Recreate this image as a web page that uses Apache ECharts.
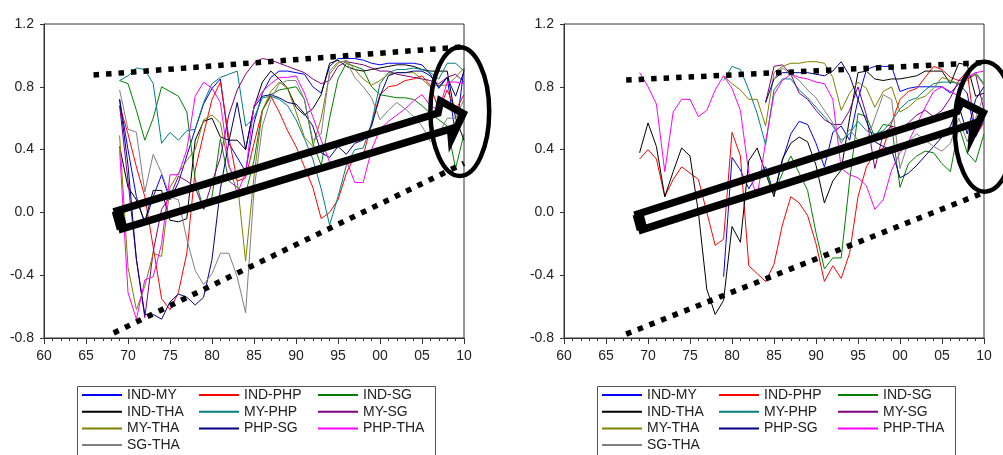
<!DOCTYPE html>
<html>
<head>
<meta charset="utf-8">
<title>Rolling correlations</title>
<script src="https://cdn.jsdelivr.net/npm/echarts@6/dist/echarts.min.js"></script>
<style>
html, body { margin: 0; padding: 0; background: #fff; }
#chart { width: 1003px; height: 455px; }
</style>
</head>
<body>
<div id="chart"></div>
<script>
// x values: one point per year
const years = [1969, 1970, 1971, 1972, 1973, 1974, 1975, 1976, 1977, 1978,
  1979, 1980, 1981, 1982, 1983, 1984, 1985, 1986, 1987, 1988,
  1989, 1990, 1991, 1992, 1993, 1994, 1995, 1996, 1997, 1998,
  1999, 2000, 2001, 2002, 2003, 2004, 2005, 2006, 2007, 2008,
  2009, 2010];

const pairNames = ["IND-MY", "IND-PHP", "IND-SG", "IND-THA", "MY-PHP",
  "MY-SG", "MY-THA", "PHP-SG", "PHP-THA", "SG-THA"];
const pairColors = ["#0000ff", "#ff0000", "#008000", "#000000", "#008080",
  "#800080", "#808000", "#000080", "#ff00ff", "#808080"];

// legend columns (3 per box)
const legendCol1 = ["IND-MY", "IND-THA", "MY-THA", "SG-THA"];
const legendCol2 = ["IND-PHP", "MY-PHP", "PHP-SG"];
const legendCol3 = ["IND-SG", "MY-SG", "PHP-THA"];

// y axis ticks
const yTicks = [-0.8, -0.4, 0.0, 0.4, 0.8, 1.2];

// ---- left panel ----
const leftIndMy = [0.72, 0.4, 0.1, -0.07, 0.1, 0.24, 0.08, 0.19, 0.36, 0.53,
  0.69, 0.79, 0.85, 0.44, 0.35, 0.26, 0.57, 0.76, 0.86, 0.9,
  0.9, 0.89, 0.88, 0.8, 0.76, 0.93, 0.98, 0.98, 0.98, 0.97,
  0.95, 0.94, 0.95, 0.95, 0.95, 0.95, 0.94, 0.88, 0.79, 0.86,
  0.49, 0.92];
const leftIndPhp = [0.68, 0.5, 0.29, 0.1, -0.22, -0.55, -0.62, -0.51, -0.26, 0.27,
  0.5, 0.72, 0.83, 0.48, 0.2, 0.22, 0.44, 0.65, 0.74, 0.64,
  0.52, 0.42, 0.29, 0.16, -0.04, 0.0, 0.08, 0.25, 0.36, 0.36,
  0.57, 0.75, 0.8, 0.81, 0.84, 0.85, 0.87, 0.81, 0.65, 0.78,
  0.65, 0.75];
const leftIndSg = [0.84, 0.82, 0.65, 0.46, 0.6, 0.8, 0.77, 0.74, 0.64, 0.21,
  0.02, 0.1, 0.47, 0.2, 0.16, 0.12, 0.33, 0.65, 0.75, 0.78,
  0.79, 0.8, 0.72, 0.44, 0.3, 0.6, 0.85, 0.95, 0.93, 0.91,
  0.8, 0.75, 0.74, 0.73, 0.73, 0.72, 0.68, 0.63, 0.59, 0.55,
  0.28, 0.5];
const leftIndTha = [0.42, 0.16, 0.08, -0.06, 0.14, 0.14, -0.05, -0.06, -0.04, 0.46,
  0.58, 0.6, 0.48, 0.46, 0.46, 0.4, 0.67, 0.83, 0.9, 0.85,
  0.79, 0.67, 0.62, 0.66, 0.75, 0.95, 0.97, 0.93, 0.91, 0.9,
  0.91, 0.92, 0.93, 0.94, 0.94, 0.93, 0.91, 0.9, 0.9, 0.9,
  0.6, 0.46];
const leftMyPhp = [0.84, 0.87, 0.92, 0.91, 0.82, 0.44, 0.51, 0.46, 0.52, 0.53,
  0.7, 0.82, 0.86, 0.88, 0.9, 0.55, 0.6, 0.73, 0.74, 0.72,
  0.68, 0.59, 0.47, 0.34, 0.15, -0.08, 0.1, 0.3, 0.4, 0.41,
  0.57, 0.82, 0.89, 0.91, 0.91, 0.92, 0.91, 0.89, 0.85, 0.95,
  0.95, 0.9];
const leftMySg = [0.68, 0.2, -0.3, -0.67, -0.25, 0.02, 0.1, 0.23, 0.2, 0.16,
  0.02, 0.19, 0.35, 0.62, 0.78, 0.88, 0.95, 0.98, 0.97, 0.95,
  0.93, 0.91, 0.89, 0.85, 0.82, 0.84, 0.93, 0.96, 0.95, 0.94,
  0.92, 0.9, 0.9, 0.88, 0.87, 0.86, 0.85, 0.84, 0.82, 0.86,
  0.88, 0.83];
const leftMyTha = [0.49, -0.35, -0.62, -0.47, -0.26, -0.28, 0.16, 0.25, 0.33, 0.4,
  0.59, 0.62, 0.57, 0.29, 0.2, -0.31, 0.23, 0.65, 0.77, 0.83,
  0.79, 0.64, 0.48, 0.42, 0.6, 0.88, 0.95, 0.97, 0.91, 0.85,
  0.81, 0.84, 0.88, 0.89, 0.89, 0.89, 0.85, 0.8, 0.81, 0.81,
  0.86, 0.92];
const leftPhpSg = [0.72, 0.3, -0.3, -0.65, -0.65, -0.68, -0.57, -0.52, -0.54, -0.59,
  -0.54, -0.3, 0.15, 0.45, 0.7, 0.4, 0.67, 0.74, 0.75, 0.73,
  0.7, 0.69, 0.63, 0.55, 0.38, 0.35, 0.42, 0.37, 0.44, 0.46,
  0.55, 0.74, 0.87, 0.89, 0.89, 0.9, 0.9, 0.87, 0.8, 0.86,
  0.74, 0.9];
const leftPhpTha = [0.4, -0.51, -0.68, -0.43, -0.41, -0.2, 0.24, 0.24, 0.4, 0.74,
  0.83, 0.79, 0.7, 0.31, 0.12, 0.25, 0.68, 0.77, 0.82, 0.86,
  0.86, 0.87, 0.76, 0.61, 0.46, 0.32, 0.32, 0.33, 0.19, 0.19,
  0.4, 0.53, 0.58, 0.62, 0.66, 0.71, 0.75, 0.68, 0.65, 0.83,
  0.83, 0.82];
const leftSgTha = [0.78, 0.53, 0.51, 0.13, 0.37, 0.25, 0.1, 0.08, -0.17, -0.37,
  -0.46, -0.39, -0.26, -0.26, -0.41, -0.64, 0.14, 0.55, 0.72, 0.82,
  0.84, 0.84, 0.72, 0.46, 0.5, 0.9, 0.96, 0.96, 0.86, 0.8,
  0.73, 0.59, 0.65, 0.7, 0.66, 0.61, 0.55, 0.45, 0.5, 0.6,
  0.6, 0.72];

// ---- right panel (null = no value yet) ----
const rightIndMy = [null, null, null, null, null, null, null, null, null, null,
  -0.41, 0.35, 0.27, 0.15, 0.24, 0.29, 0.12, 0.33, 0.5, 0.58,
  0.56, 0.44, 0.29, 0.51, 0.55, 0.46, 0.72, 0.91, 0.93, 0.93,
  0.93, 0.77, 0.79, 0.8, 0.8, 0.8, 0.8, 0.76, 0.82, 0.76,
  0.48, 0.59];
const rightIndPhp = [0.34, 0.4, 0.34, 0.1, 0.21, 0.29, 0.25, 0.21, 0.0, -0.21,
  -0.17, 0.51, 0.36, -0.34, -0.39, -0.44, -0.33, -0.08, 0.1, 0.06,
  -0.02, -0.2, -0.44, -0.34, -0.42, -0.26, 0.1, 0.29, 0.38, 0.41,
  0.57, 0.72, 0.77, 0.79, 0.86, 0.93, 0.91, 0.86, 0.84, 0.9,
  0.49, 0.57];
const rightIndSg = [null, null, null, null, null, null, null, null, null, null,
  null, null, null, null, null, 0.27, 0.12, 0.25, 0.36, 0.25,
  0.14, -0.13, -0.36, -0.29, -0.29, 0.2, 0.63, 0.61, 0.48, 0.56,
  0.55, 0.16, 0.31, 0.36, 0.39, 0.38, 0.31, 0.26, 0.55, 0.38,
  0.32, 0.5];
const rightIndTha = [0.38, 0.57, 0.42, 0.1, 0.26, 0.41, 0.36, 0.0, -0.49, -0.65,
  -0.56, -0.09, -0.19, 0.33, 0.41, 0.25, 0.1, 0.34, 0.44, 0.48,
  0.45, 0.3, 0.06, 0.2, 0.27, 0.6, 0.89, 0.9, 0.85, 0.84,
  0.85, 0.85, 0.86, 0.87, 0.9, 0.9, 0.9, 0.82, 0.95, 0.94,
  0.74, 0.76];
const rightMyPhp = [null, null, null, null, null, null, null, null, null, null,
  0.84, 0.93, 0.91, 0.78, 0.63, 0.43, 0.78, 0.85, 0.85, 0.78,
  0.73, 0.67, 0.61, 0.55, 0.46, 0.5, 0.58, 0.52, 0.5, 0.52,
  0.58, 0.66, 0.71, 0.73, 0.78, 0.82, 0.83, 0.83, 0.82, 0.86,
  0.89, 0.82];
const rightMySg = [null, null, null, null, null, null, null, null, null, null,
  null, null, null, null, null, 0.7, 0.93, 0.94, 0.88, 0.76,
  0.72, 0.65, 0.59, 0.56, 0.56, 0.65, 0.8, 0.62, 0.28, 0.5,
  0.55, 0.53, 0.57, 0.62, 0.65, 0.61, 0.65, 0.73, 0.84, 0.85,
  0.88, 0.65];
const rightMyTha = [null, null, null, null, null, null, null, null, null, null,
  0.87, 0.82, 0.78, 0.72, 0.72, 0.55, 0.89, 0.93, 0.95, 0.95,
  0.96, 0.96, 0.95, 0.86, 0.65, 0.76, 0.83, 0.79, 0.67, 0.77,
  0.8, 0.64, 0.67, 0.72, 0.74, 0.79, 0.86, 0.84, 0.82, 0.84,
  0.88, 0.81];
const rightPhpSg = [null, null, null, null, null, null, null, null, null, null,
  null, null, null, null, null, 0.7, 0.85, 0.89, 0.89, 0.89,
  0.89, 0.88, 0.87, 0.9, 0.96, 0.87, 0.72, 0.58, 0.45, 0.42,
  0.4, 0.22, 0.25, 0.3, 0.36, 0.42, 0.48, 0.55, 0.68, 0.5,
  0.72, 0.8];
const rightPhpTha = [0.89, 0.8, 0.69, 0.26, 0.64, 0.72, 0.72, 0.61, 0.65, 0.78,
  0.87, 0.79, 0.65, 0.25, 0.1, 0.45, 0.75, 0.84, 0.88, 0.86,
  0.85, 0.83, 0.82, 0.72, 0.28, 0.24, 0.22, 0.17, 0.02, 0.08,
  0.27, 0.38, 0.45, 0.56, 0.67, 0.77, 0.8, 0.77, 0.74, 0.86,
  0.89, 0.9];
const rightSgTha = [null, null, null, null, null, null, null, null, null, null,
  null, null, null, null, null, null, 0.85, 0.92, 0.88, 0.84,
  0.78, 0.73, 0.65, 0.57, 0.44, 0.53, 0.46, 0.45, 0.6, 0.75,
  0.72, 0.28, 0.45, 0.5, 0.46, 0.42, 0.39, 0.44, 0.6, 0.45,
  0.6, 0.75];

const leftPanel = [leftIndMy, leftIndPhp, leftIndSg, leftIndTha, leftMyPhp,
  leftMySg, leftMyTha, leftPhpSg, leftPhpTha, leftSgTha];
const rightPanel = [rightIndMy, rightIndPhp, rightIndSg, rightIndTha, rightMyPhp,
  rightMySg, rightMyTha, rightPhpSg, rightPhpTha, rightSgTha];

// hand-drawn annotations, in data units [year, value]
const leftNotes = {
  dots: [[[1965.9, 0.875], [2010, 1.055]], [[1968.3, -0.768], [2010, 0.313]]],
  arrow: [[1968.7, 0.01], [2006.9, 0.633], [2007.2, 0.71], [2009.9, 0.63],
    [2008.5, 0.47], [2008.4, 0.532], [1969.3, -0.105]],
  ellipse: { center: [2009.5, 0.642], rx: 3.5, ry: 0.41 }
};
const rightNotes = {
  dots: [[[1967.4, 0.843], [2010, 0.954]], [[1967.4, -0.775], [2010, 0.127]]],
  arrow: [[1968.8, -0.01], [2006.8, 0.643], [2007.3, 0.705], [2009.9, 0.635],
    [2008.6, 0.49], [2008.7, 0.565], [1969.3, -0.11]],
  ellipse: { center: [2010.1, 0.546], rx: 3.6, ry: 0.414 }
};

const fontFamily = "'Liberation Sans', Arial, sans-serif";

const chart = echarts.init(document.getElementById("chart"));

function makeGrid(left) {
  return {
    left: left, top: 24, width: 420, height: 314,
    show: true, borderColor: "#333", borderWidth: 1, backgroundColor: "#fff"
  };
}

function makeXAxis(gridIndex) {
  return {
    type: "value", gridIndex: gridIndex, min: 1960, max: 2010, interval: 5,
    axisLine: { onZero: false, lineStyle: { color: "#333", width: 1 } },
    axisTick: { length: 6, lineStyle: { color: "#333" } },
    minorTick: { show: true, splitNumber: 5, length: 3, lineStyle: { color: "#333" } },
    splitLine: { show: false },
    axisLabel: {
      margin: 11, fontSize: 14, color: "#222", fontFamily: fontFamily,
      formatter: function (v) { return String(v % 100).padStart(2, "0"); }
    }
  };
}

function makeYAxis(gridIndex) {
  return {
    type: "value", gridIndex: gridIndex,
    min: yTicks[0], max: yTicks[yTicks.length - 1], interval: 0.4,
    axisLine: { show: true, onZero: false, lineStyle: { color: "#333", width: 1 } },
    axisTick: { show: true, length: 4, lineStyle: { color: "#333" } },
    splitLine: { show: false },
    axisLabel: {
      margin: 10, fontSize: 14, color: "#222", fontFamily: fontFamily,
      formatter: function (v) { return v.toFixed(1); }
    }
  };
}

function lineSeries(panel, axisIndex) {
  return panel.map(function (vals, i) {
    return {
      name: pairNames[i], type: "line",
      xAxisIndex: axisIndex, yAxisIndex: axisIndex,
      data: years.map(function (y, k) { return [y, vals[k] == null ? "-" : vals[k]]; }),
      showSymbol: false, symbol: "none",
      lineStyle: { color: pairColors[i], width: 1 },
      itemStyle: { color: pairColors[i] },
      emphasis: { disabled: true },
      z: 2
    };
  });
}

function notesSeries(notes, axisIndex) {
  return {
    type: "custom", xAxisIndex: axisIndex, yAxisIndex: axisIndex,
    data: [[1990, 0]], silent: true, clip: false, z: 10,
    renderItem: function (params, api) {
      const pt = function (p) { return api.coord(p); };
      const children = [];
      notes.dots.forEach(function (seg) {
        const a = pt(seg[0]), b = pt(seg[1]);
        children.push({
          type: "line", shape: { x1: a[0], y1: a[1], x2: b[0], y2: b[1] },
          style: { stroke: "#000", lineWidth: 5.5, lineDash: [5.5, 7], lineCap: "butt" }
        });
      });
      const ap = notes.arrow.map(pt);
      children.push({
        type: "polygon", shape: { points: ap },
        style: { fill: "none", stroke: "#000", lineWidth: 7.5, lineJoin: "miter", miterLimit: 10 }
      });
      const t0 = ap[0], t1 = ap[ap.length - 1];
      children.push({
        type: "line", shape: { x1: t0[0], y1: t0[1], x2: t1[0], y2: t1[1] },
        style: { stroke: "#000", lineWidth: 11 }
      });
      const e = notes.ellipse;
      const c = pt(e.center);
      const rx = pt([e.center[0] + e.rx, e.center[1]])[0] - c[0];
      const ry = c[1] - pt([e.center[0], e.center[1] + e.ry])[1];
      children.push({
        type: "ellipse", shape: { cx: c[0], cy: c[1], rx: rx, ry: ry },
        style: { fill: "none", stroke: "#000", lineWidth: 4.5 }
      });
      return { type: "group", children: children };
    }
  };
}

function legendColumn(names, left) {
  return {
    data: names.map(function (n) { return { name: n, icon: "rect" }; }),
    orient: "vertical", left: left, top: 387, padding: 0,
    itemWidth: 40, itemHeight: 2, itemGap: 0.7,
    selectedMode: false,
    textStyle: { fontSize: 14, color: "#222", fontFamily: fontFamily, lineHeight: 16 }
  };
}

const option = {
  animation: false,
  backgroundColor: "#fff",
  grid: [makeGrid(44), makeGrid(564)],
  xAxis: [makeXAxis(0), makeXAxis(1)],
  yAxis: [makeYAxis(0), makeYAxis(1)],
  legend: [
    legendColumn(legendCol1, 82), legendColumn(legendCol2, 199), legendColumn(legendCol3, 318),
    legendColumn(legendCol1, 602), legendColumn(legendCol2, 719), legendColumn(legendCol3, 838)
  ],
  graphic: [
    { type: "rect", left: 75, top: 384, shape: { width: 358, height: 80 },
      style: { fill: "none", stroke: "#555", lineWidth: 1 }, silent: true },
    { type: "rect", left: 595, top: 384, shape: { width: 358, height: 80 },
      style: { fill: "none", stroke: "#555", lineWidth: 1 }, silent: true }
  ],
  series: lineSeries(leftPanel, 0)
    .concat(lineSeries(rightPanel, 1))
    .concat([notesSeries(leftNotes, 0), notesSeries(rightNotes, 1)])
};

chart.setOption(option);
</script>
</body>
</html>
